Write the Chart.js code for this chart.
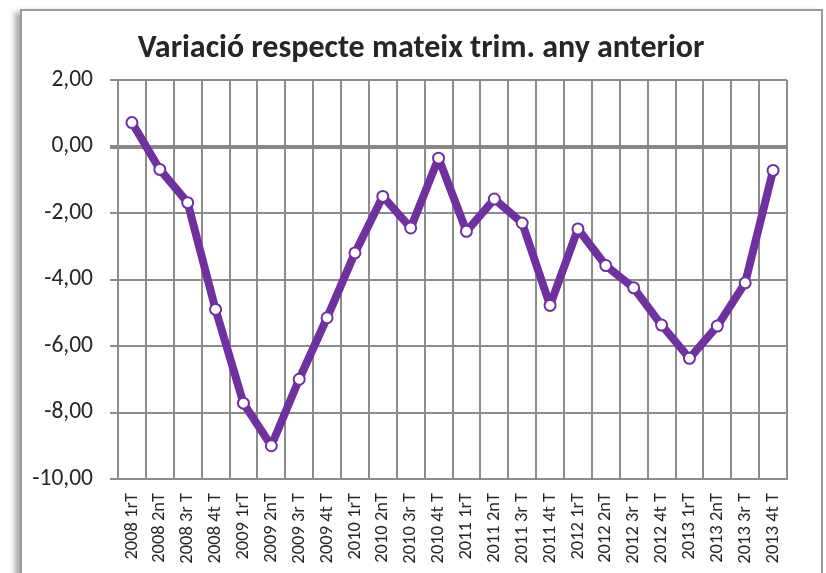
<!DOCTYPE html>
<html>
<head>
<meta charset="utf-8">
<script src="https://cdn.jsdelivr.net/npm/chart.js@4.4.1/dist/chart.umd.min.js"></script>
<style>
  html, body { margin: 0; padding: 0; width: 826px; height: 573px; overflow: hidden; background: #ffffff; }
  #frame { position: absolute; left: 20px; top: 9px; width: 799px; height: 700px;
           border: 2px solid #9a9a9a; box-shadow: -6px 2px 6px -1px rgba(0,0,0,0.35); background: #fff; }
  #c { position: absolute; left: 0; top: 0; }
</style>
</head>
<body>
<div id="frame"></div>
<canvas id="c" width="826" height="620"></canvas>
<script>
const titleText = "Variació respecte mateix trim. any anterior";
const categories = [
  "2008 1rT", "2008 2nT", "2008 3r T", "2008 4t T",
  "2009 1rT", "2009 2nT", "2009 3r T", "2009 4t T",
  "2010 1rT", "2010 2nT", "2010 3r T", "2010 4t T",
  "2011 1rT", "2011 2nT", "2011 3r T", "2011 4t T",
  "2012 1rT", "2012 2nT", "2012 3r T", "2012 4t T",
  "2013 1rT", "2013 2nT", "2013 3r T", "2013 4t T"
];
const values = [
  0.72, -0.69, -1.69, -4.90,
  -7.72, -9.00, -7.00, -5.15,
  -3.20, -1.50, -2.45, -0.35,
  -2.55, -1.58, -2.30, -4.78,
  -2.48, -3.58, -4.25, -5.37,
  -6.37, -5.40, -4.10, -0.72
];
const yTickValues = [2, 0, -2, -4, -6, -8, -10];
const yTickLabels = ["2,00", "0,00", "-2,00", "-4,00", "-6,00", "-8,00", "-10,00"];

const FONT = "Carlito, Lato, 'Open Sans', sans-serif";
const CANVAS_W = 826, CANVAS_H = 620;
const PLOT_TOP = 80, PLOT_BOTTOM = 479, PLOT_LEFT = 118, PLOT_RIGHT = 787;
const PAD_LEFT = 16, PAD_RIGHT = 0;
const TITLE_SIZE = 32, TITLE_PAD_TOP = 30;

new Chart(document.getElementById('c'), {
  type: 'line',
  data: {
    labels: categories,
    datasets: [{
      data: values,
      yAxisID: 'y',
      borderColor: '#7030A0',
      borderWidth: 8,
      borderJoinStyle: 'round',
      borderCapStyle: 'round',
      tension: 0,
      pointRadius: 5.5,
      pointHoverRadius: 5.5,
      pointBackgroundColor: '#ffffff',
      pointBorderColor: '#7030A0',
      pointBorderWidth: 2
    }]
  },
  options: {
    responsive: false,
    animation: false,
    devicePixelRatio: 1,
    layout: { padding: { left: PAD_LEFT, right: PAD_RIGHT, top: 0, bottom: 0 } },
    plugins: {
      legend: { display: false },
      tooltip: { enabled: false },
      title: {
        display: true,
        text: titleText,
        color: '#262626',
        font: { family: FONT, size: TITLE_SIZE, weight: 'bold', lineHeight: 1.2 },
        padding: { top: TITLE_PAD_TOP, bottom: PLOT_TOP - TITLE_PAD_TOP - TITLE_SIZE * 1.2 }
      }
    },
    scales: {
      x: {
        type: 'category',
        offset: true,
        afterFit: (s) => { s.height = CANVAS_H - PLOT_BOTTOM; },
        grid: {
          offset: true,
          color: '#8c8c8c',
          lineWidth: 2,
          drawTicks: false
        },
        border: { display: true, color: '#8c8c8c', width: 2 },
        ticks: {
          autoSkip: false,
          minRotation: 90,
          maxRotation: 90,
          padding: 14,
          color: '#262626',
          font: { family: FONT, size: 18.5 }
        }
      },
      y: {
        position: 'left',
        min: -10,
        max: 2,
        afterFit: (s) => { s.width = PLOT_LEFT - PAD_LEFT; },
        afterBuildTicks: (s) => { s.ticks = yTickValues.map(v => ({ value: v })); },
        grid: {
          color: (ctx) => (ctx.tick && ctx.tick.value === 0) ? '#888888' : '#8c8c8c',
          lineWidth: (ctx) => (ctx.tick && ctx.tick.value === 0) ? 4 : 2,
          tickLength: 8
        },
        border: { display: true, color: '#8c8c8c', width: 2 },
        ticks: {
          padding: 17,
          color: '#262626',
          font: { family: FONT, size: 23.5 },
          callback: (v) => {
            const i = yTickValues.indexOf(v);
            return i >= 0 ? yTickLabels[i] : '';
          }
        }
      },
      yRightSpace: {
        position: 'right',
        display: true,
        min: -10,
        max: 2,
        afterFit: (s) => { s.width = CANVAS_W - PAD_RIGHT - PLOT_RIGHT; },
        grid: { display: false, drawTicks: false },
        border: { display: false },
        ticks: { display: false }
      }
    }
  }
});
</script>
</body>
</html>
